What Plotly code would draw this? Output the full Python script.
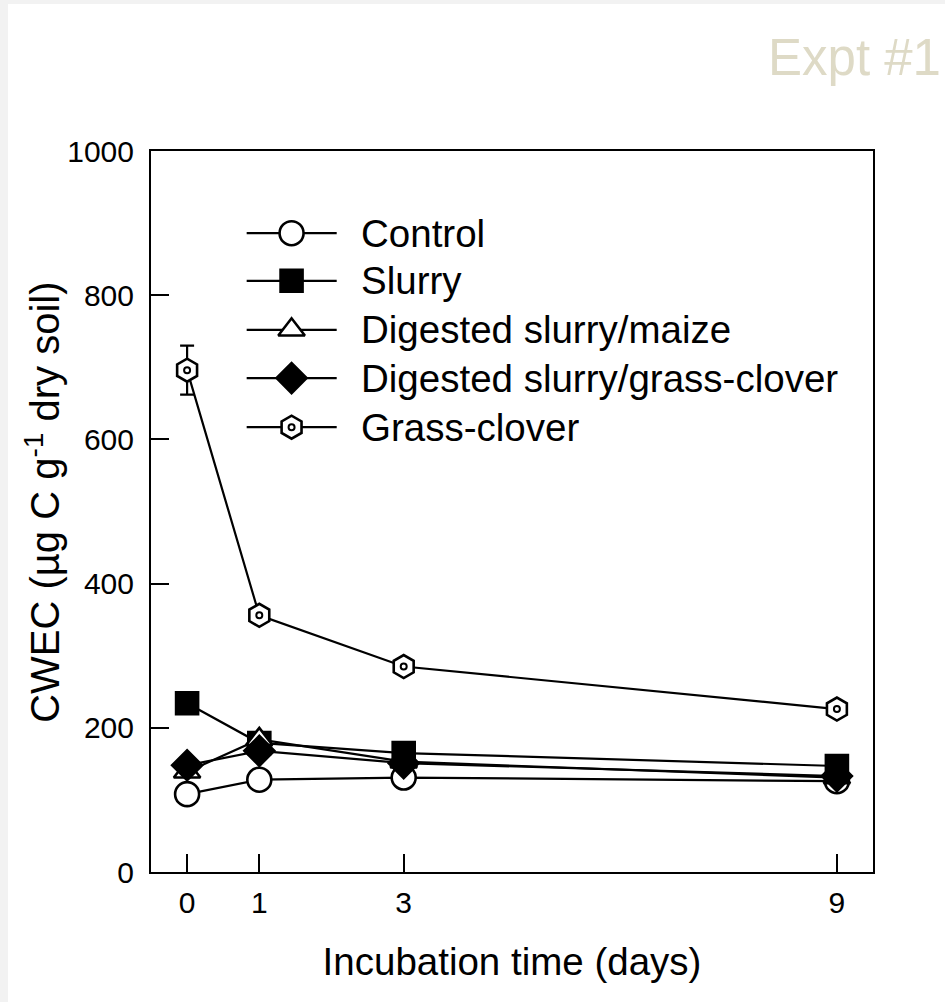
import plotly.graph_objects as go

# Incubation times (days) and CWEC means (µg C g-1 dry soil)
days = [0, 1, 3, 9]
control = [108, 128, 131, 126]
slurry = [234, 179, 165, 147]
dig_maize = [139, 184, 153, 131]
dig_grass_clover = [148, 168, 151, 133]
grass_clover = [696, 356, 285, 226]
grass_clover_err = [34, 0, 0, 0]

series_names = ["Control", "Slurry", "Digested slurry/maize",
                "Digested slurry/grass-clover", "Grass-clover"]
series_values = [control, slurry, dig_maize, dig_grass_clover, grass_clover]
series_symbols = ["circle", "square", "triangle-up", "diamond", "hexagon"]
series_fill = ["white", "black", "white", "black", "white"]
series_size = [24, 22, 23, 23, 23]
series_ring = [False, False, False, False, True]

x_ticks = [0, 1, 3, 9]
y_ticks = [0, 200, 400, 600, 800, 1000]

FONT = "Arial, Liberation Sans, sans-serif"
MLW = 2.6

fig = go.Figure()

for name, vals, sym, fill, size, ring in zip(series_names, series_values,
                                             series_symbols, series_fill,
                                             series_size, series_ring):
    err = None
    if name == "Grass-clover":
        err = dict(type="data", array=grass_clover_err, visible=True,
                   color="black", thickness=2.2, width=7)
    fig.add_trace(go.Scatter(
        x=days, y=vals, name=name, mode="lines+markers",
        line=dict(color="black", width=2.2),
        marker=dict(symbol=sym, size=size, color=fill,
                    line=dict(color="black", width=MLW)),
        error_y=err, showlegend=False, cliponaxis=False,
    ))
    if ring:
        # small ring in the centre of the hexagon
        fig.add_trace(go.Scatter(
            x=days, y=vals, mode="markers", showlegend=False, hoverinfo="skip",
            marker=dict(symbol="circle", size=6, color="white",
                        line=dict(color="black", width=2)),
            cliponaxis=False,
        ))

# Hand-placed key drawn on an overlay unit axis
key_x = [0.1325, 0.1947, 0.2572]
key_text_x = 0.288
key_rows = [0.886, 0.820, 0.752, 0.685, 0.617]
for name, sym, fill, size, ring, ky in zip(series_names, series_symbols,
                                           series_fill, series_size,
                                           series_ring, key_rows):
    fig.add_trace(go.Scatter(
        x=[key_x[0], key_x[2]], y=[ky, ky], xaxis="x2", yaxis="y2", mode="lines",
        line=dict(color="black", width=2.2), showlegend=False, hoverinfo="skip",
    ))
    fig.add_trace(go.Scatter(
        x=[key_x[1]], y=[ky], xaxis="x2", yaxis="y2", mode="markers",
        marker=dict(symbol=sym, size=size, color=fill,
                    line=dict(color="black", width=MLW)),
        showlegend=False, hoverinfo="skip",
    ))
    if ring:
        fig.add_trace(go.Scatter(
            x=[key_x[1]], y=[ky], xaxis="x2", yaxis="y2", mode="markers",
            marker=dict(symbol="circle", size=6, color="white",
                        line=dict(color="black", width=2)),
            showlegend=False, hoverinfo="skip",
        ))
    fig.add_annotation(x=key_text_x, y=ky, xref="x2", yref="y2", text=name,
                       showarrow=False, xanchor="left", yanchor="middle",
                       font=dict(family=FONT, size=38.5, color="black"))

# Vertical axis title
fig.add_annotation(x=-0.15, y=0.513, xref="paper", yref="paper",
                   text="CWEC (µg C g<sup>-1</sup> dry soil)", textangle=-90,
                   showarrow=False, xanchor="center", yanchor="middle",
                   font=dict(family=FONT, size=40, color="black"))

# White panel over the light grey page
fig.add_shape(type="rect", xref="paper", yref="paper",
              x0=-0.198, x1=1.3, y0=-0.5, y1=1.2039,
              fillcolor="white", line=dict(width=0), layer="below")

fig.update_layout(
    width=945, height=1002,
    margin=dict(l=151, r=72, t=151, b=130),
    paper_bgcolor="#f2f2f2", plot_bgcolor="white",
    showlegend=False,
    title=dict(text="Expt #1", x=768 / 945, xanchor="left", xref="container",
               y=1 - 57 / 1002, yanchor="middle", yref="container",
               font=dict(family=FONT, size=51, color="#dedac6")),
    xaxis=dict(range=[-0.5, 9.5], tickvals=x_ticks, ticktext=[str(t) for t in x_ticks],
               ticks="inside", ticklen=18, tickwidth=2, tickcolor="black",
               showline=True, linecolor="black", linewidth=2, mirror=True,
               showgrid=False, zeroline=False,
               tickfont=dict(family=FONT, size=30, color="black"),
               ticklabelstandoff=3,
               title=dict(text="Incubation time (days)", standoff=30,
                          font=dict(family=FONT, size=38.5, color="black"))),
    yaxis=dict(range=[0, 1000], tickvals=y_ticks,
               ticks="inside", ticklen=18, tickwidth=2, tickcolor="black",
               showline=True, linecolor="black", linewidth=2, mirror=True,
               showgrid=False, zeroline=False,
               tickfont=dict(family=FONT, size=30, color="black"),
               ticklabelstandoff=9),
    xaxis2=dict(overlaying="x", range=[0, 1], visible=False, anchor="y2"),
    yaxis2=dict(overlaying="y", range=[0, 1], visible=False, anchor="x2"),
)

fig.write_html("out.html")
